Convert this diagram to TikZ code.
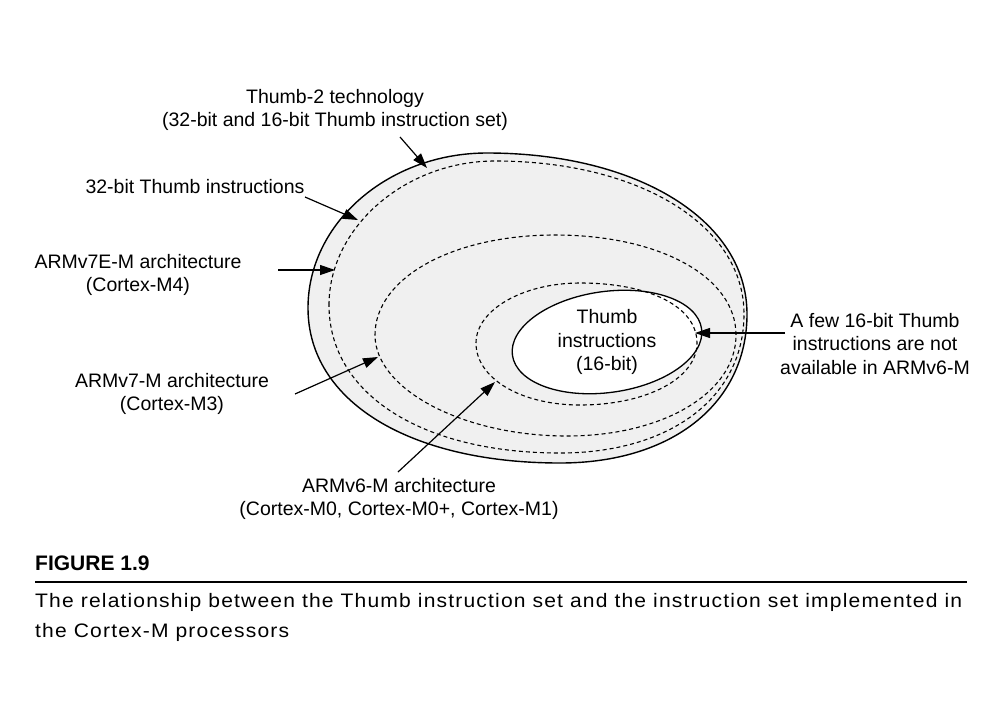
\documentclass[tikz,border=0pt]{standalone}
\usepackage{fontspec}
\setmainfont{Liberation Sans}
\newfontfamily\capfont[FakeStretch=1.08,LetterSpace=6]{Liberation Sans}
\usepackage{tikz}
\usetikzlibrary{arrows.meta}
\definecolor{shade}{gray}{0.94}

\begin{document}
\begin{tikzpicture}[% one unit is one pixel of the reference, y runs downwards
					x=1pt,y=-1pt,
					every node/.style={
						align=center,  		% "\\" breaks the lines
						inner sep=0pt,
						font=\fontsize{19.5}{23.5}\selectfont
						},
					pointer/.style={draw,line width=1.2pt,-{Triangle[length=15pt,width=10pt]}},
					setline/.style={line width=1.1pt,dash pattern=on 4pt off 3pt},
					captext/.style={anchor=base west,font=\capfont\fontsize{19.5}{23.5}\selectfont}
					]
\path[use as bounding box,fill=white] (0,0) rectangle (1004,710);

% instruction set regions, drawn one quarter at a time
\filldraw[fill=shade,line width=1.4pt] (308,308)
	.. controls (308,222.75) and (388.55,153) .. (487,153)
	.. controls (637.8,153) and (747,220.6) .. (747,314)
	.. controls (747,403.4) and (672.2,463) .. (560,463)
	.. controls (408.8,463) and (308,401) .. (308,308) -- cycle;
\draw[setline] (329,305)
	.. controls (329,227.2) and (405.4,161) .. (495,161)
	.. controls (639.4,161) and (744,225.3) .. (744,314)
	.. controls (744,397.4) and (670.4,453) .. (560,453)
	.. controls (421.4,453) and (329,393.8) .. (329,305) -- cycle;
\draw[setline] (375,335)
	.. controls (375,278) and (452.4,235) .. (555,235)
	.. controls (660,235) and (736,277) .. (736,335)
	.. controls (736,392.6) and (663.3,436) .. (567,436)
	.. controls (463.3,436) and (375,389.5) .. (375,335) -- cycle;
\node (T16) at (607,342) {Thumb\\ instructions\\ (16-bit)};
\fill[white,rotate around={8:(T16.center)}] (T16.center) ellipse [x radius=95.5pt,y radius=50.5pt];
\node at (T16.center) {Thumb\\ instructions\\ (16-bit)};
\draw[setline] (476,343)
	.. controls (476,310) and (522.8,283) .. (580,283)
	.. controls (650.2,283) and (697,307) .. (697,343)
	.. controls (697,378.3) and (646.7,405) .. (580,405)
	.. controls (520.7,405) and (476,378.3) .. (476,343) -- cycle;
\draw[line width=1.3pt,rotate around={8:(T16.center)}] (T16.center) ellipse [x radius=95.5pt,y radius=50.5pt];

% labels
\node (T2) at (335,110) {Thumb-2 technology\\ (32-bit and 16-bit Thumb instruction set)};
\node (T32) at (195,187) {32-bit Thumb instructions};
\node (M4) at (138,275) {ARMv7E-M architecture\\ (Cortex-M4)};
\node (M3) at (172,394) {ARMv7-M architecture\\ (Cortex-M3)};
\node (M0) at (399,499) {ARMv6-M architecture\\ (Cortex-M0, Cortex-M0+, Cortex-M1)};
\node (NA) at (875,344) {A few 16-bit Thumb\\ instructions are not\\ available in ARMv6-M};

% arrow ends
\coordinate (T2a) at (400,137);  \coordinate (T2b) at (427,168);
\coordinate (T32a) at (305,197); \coordinate (T32b) at (358,220);
\coordinate (M4a) at (278,270);  \coordinate (M4b) at (335,270);
\coordinate (M3a) at (295,394);  \coordinate (M3b) at (378,357);
\coordinate (M0a) at (398,472);  \coordinate (M0b) at (495,382);
\coordinate (NAa) at (785,333);  \coordinate (NAb) at (695,333);
\path
(T2a)edge [pointer]     node [] {} (T2b)
(T32a)edge [pointer]    node [] {} (T32b)
(M4a)edge [pointer]     node [] {} (M4b)
(M3a)edge [pointer]     node [] {} (M3b)
(M0a)edge [pointer]     node [] {} (M0b)
(NAa)edge [pointer]     node [] {} (NAb)
;

% caption
\node[anchor=base west,font=\fontsize{21}{25}\bfseries\selectfont] (fig) at (35,570) {FIGURE 1.9};
\coordinate (ruleL) at (35,582); \coordinate (ruleR) at (967,582);
\draw[line width=1.6pt] (ruleL) -- (ruleR);
\node[captext] (cap1) at (35,607) {The relationship between the Thumb instruction set and the instruction set implemented in};
\node[captext] (cap2) at (35,637) {the Cortex-M processors};
\end{tikzpicture}
\end{document}
